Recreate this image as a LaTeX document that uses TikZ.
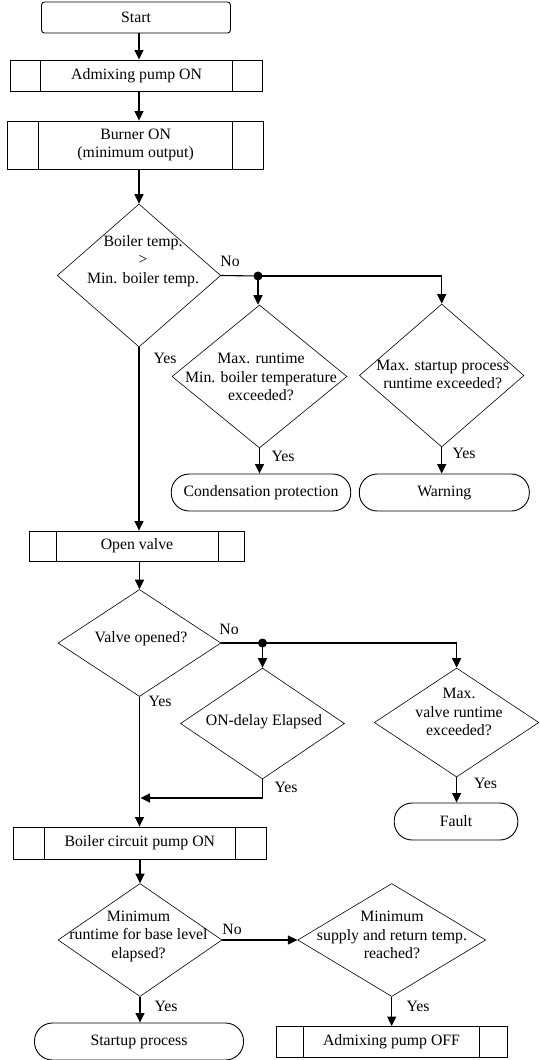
\documentclass[tikz,border=0pt]{standalone}
\usepackage{fontspec}
\setmainfont{Liberation Serif}
\usetikzlibrary{arrows.meta,shapes.geometric}
\begin{document}
\begin{tikzpicture}[x=1pt,y=-1pt,
  every node/.style={font=\fontsize{15.8}{18.5}\selectfont},
  arr/.style={line width=1.1pt,-{Triangle[length=9.5pt,width=9pt]}},
  conn/.style={line width=1.1pt},
  sub/.style n args={3}{draw,rectangle,line width=0.9pt,inner sep=0pt,minimum width=#1,minimum height=#2,
    path picture={
      \draw[line width=0.9pt] ([xshift=#3]path picture bounding box.north west) -- ([xshift=#3]path picture bounding box.south west);
      \draw[line width=0.9pt] ([xshift=-#3]path picture bounding box.north east) -- ([xshift=-#3]path picture bounding box.south east);}},
  term/.style 2 args={draw,rectangle,line width=0.9pt,rounded corners=18pt,inner sep=0pt,minimum width=#1,minimum height=#2},
  dia/.style 2 args={draw,diamond,line width=0.6pt,inner sep=0pt,minimum width=#1,minimum height=#2},
  txt/.style={align=center,inner sep=0pt},
  lbl/.style={inner sep=0pt}
]
\useasboundingbox (0,0) rectangle (540,1060);

% nodes
\node[draw,rectangle,line width=0.9pt,rounded corners=3pt,minimum width=189,minimum height=31] (start) at (136,17.5) {Start};
\node[sub={252}{31}{30}] (adm) at (136.6,75.5) {Admixing pump ON};
\node[sub={256.6}{48}{31},align=center] (burn) at (135.6,145) {Burner ON\\(minimum output)};

\node[dia={163.5}{143}] (d1) at (139,275.5) {};
\node[txt] (t1) at (143,261) {Boiler temp.\\>\\Min. boiler temp.};
\coordinate (dot1) at (258,276);

\node[dia={175}{143}] (d2) at (259.5,376.5) {};
\node[txt] (t2) at (261,377) {Max. runtime\\Min. boiler temperature\\exceeded?};
\node[dia={164.6}{143}] (d3) at (441.7,375.5) {};
\node[txt] (t3) at (442.7,374.5) {Max. startup process\\runtime exceeded?};

\node[term={179.5}{37}] (cond) at (261,492.5) {Condensation protection};
\node[term={170}{37}] (warn) at (444.3,492.5) {Warning};

\node[sub={215}{30}{26.5}] (ov) at (137,546) {Open valve};

\node[dia={163}{107}] (d4) at (139.5,643) {};
\node[txt] (t4) at (141,639) {Valve opened?};
\coordinate (dot2) at (262.5,643);

\node[dia={164}{111}] (d5) at (262.5,723.5) {};
\node[txt] (t5) at (264,722) {ON-delay Elapsed};
\node[dia={164.6}{109}] (d6) at (456.6,722.5) {};
\node[txt] (t6) at (459,712) {Max.\\valve runtime\\exceeded?};

\node[term={123.6}{37}] (fault) at (456,821.5) {Fault};
\coordinate (m1) at (140.5,798);

\node[sub={252.5}{32}{31}] (bcp) at (139.8,843) {Boiler circuit pump ON};

\node[dia={164}{113}] (d7) at (140,940) {};
\node[txt] (t7) at (138.5,936) {Minimum\\runtime for base level\\elapsed?};
\node[dia={188}{113}] (d8) at (391.7,940) {};
\node[txt] (t8) at (392,935) {Minimum\\supply and return temp.\\reached?};

\node[term={209}{37}] (sp) at (139,1041.5) {Startup process};
\node[sub={231}{31}{27.5}] (aoff) at (391.5,1042) {Admixing pump OFF};

% labels
\node[lbl] (no1) at (230,261) {No};
\node[lbl] (yes1) at (165,358) {Yes};
\node[lbl] (yes2) at (283,456) {Yes};
\node[lbl] (yes3) at (464,453) {Yes};
\node[lbl] (no2) at (229,629) {No};
\node[lbl] (yes4) at (160,701) {Yes};
\node[lbl] (yes5) at (286,787) {Yes};
\node[lbl] (yes6) at (485.5,783) {Yes};
\node[lbl] (no3) at (232,929) {No};
\node[lbl] (yes7) at (166,1006) {Yes};
\node[lbl] (yes8) at (418,1006) {Yes};

% connectors
\draw[arr] (start.south -| d1.north) -- (adm.north -| d1.north);
\draw[arr] (adm.south -| d1.north) -- (burn.north -| d1.north);
\draw[arr] (burn.south -| d1.north) -- (d1.north);

\draw[conn] (d1.east) -- (dot1);
\draw[arr] (dot1) -- (dot1 |- d2.north);
\draw[arr] (dot1) -| (d3.north);
\fill (dot1) circle (4.5);
\draw[arr] (d2.south) -- (d2.south |- cond.north);
\draw[arr] (d3.south) -- (d3.south |- warn.north);

\draw[arr] (d1.south) -- (d1.south |- ov.north);
\draw[arr] (ov.south -| d4.north) -- (d4.north);

\draw[conn] (d4.east) -- (dot2);
\draw[arr] (dot2) -- (dot2 |- d5.north);
\draw[arr] (dot2) -| (d6.north);
\fill (dot2) circle (4.5);
\draw[arr] (d5.south) |- (m1);
\draw[arr] (d6.south) -- (d6.south |- fault.north);

\draw[arr] (d4.south) -- (d4.south |- bcp.north);
\draw[arr] (bcp.south -| d7.north) -- (d7.north);
\draw[arr] (d7.east) -- (d8.west);
\draw[arr] (d7.south) -- (d7.south |- sp.north);
\draw[arr] (d8.south) -- (d8.south |- aoff.north);
\end{tikzpicture}
\end{document}
